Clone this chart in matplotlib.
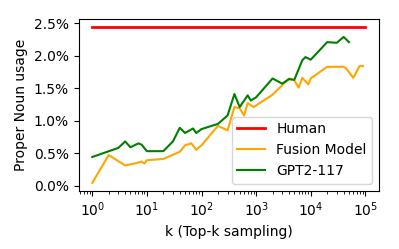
import matplotlib
matplotlib.use('Agg')
import matplotlib.pyplot as plt
from matplotlib.ticker import PercentFormatter

human_k = [1, 100000]
human_usage = [2.44, 2.44]

fusion_k = [1, 2, 4, 6, 8, 9, 10, 20, 40, 50, 65, 80, 100, 200, 300, 400, 500,
            600, 700, 900, 2000, 4000, 5000, 6000, 7000, 9000, 10000, 20000,
            30000, 40000, 45000, 60000, 78000, 90000]
fusion_usage = [0.04, 0.47, 0.31, 0.34, 0.37, 0.34, 0.39, 0.41, 0.52, 0.62, 0.65,
                0.55, 0.62, 0.92, 0.85, 1.21, 1.19, 1.08, 1.27, 1.21, 1.40,
                1.65, 1.62, 1.51, 1.66, 1.56, 1.65, 1.83, 1.83, 1.83, 1.80,
                1.66, 1.84, 1.84]

gpt2_k = [1, 3, 4, 5, 7, 8, 10, 20, 30, 40, 50, 70, 80, 100, 200, 300, 400, 500,
          700, 800, 1000, 2000, 3000, 4000, 5000, 7000, 8000, 10000, 20000,
          30000, 40000, 50000]
gpt2_usage = [0.44, 0.58, 0.68, 0.59, 0.65, 0.63, 0.53, 0.53, 0.68, 0.89, 0.81,
              0.88, 0.81, 0.87, 0.95, 1.08, 1.41, 1.21, 1.39, 1.31, 1.36, 1.65,
              1.57, 1.64, 1.63, 1.93, 1.98, 1.94, 2.21, 2.20, 2.29, 2.21]


def main():
    fig = plt.figure(figsize=(3.99, 2.49), dpi=100)
    ax = fig.add_axes([0.197, 0.234, 0.753, 0.688])

    ax.plot(human_k, human_usage, color='red', linewidth=2, label='Human')
    ax.plot(fusion_k, fusion_usage, color='orange', label='Fusion Model')
    ax.plot(gpt2_k, gpt2_usage, color='green', label='GPT2-117')

    ax.set_xscale('log')
    ax.yaxis.set_major_formatter(PercentFormatter(xmax=100, decimals=1))
    ax.set_xlabel('k (Top-k sampling)')
    ax.set_ylabel('Proper Noun usage')
    ax.legend(loc='lower right')

    fig.savefig('out.png', dpi=100)


if __name__ == '__main__':
    main()
